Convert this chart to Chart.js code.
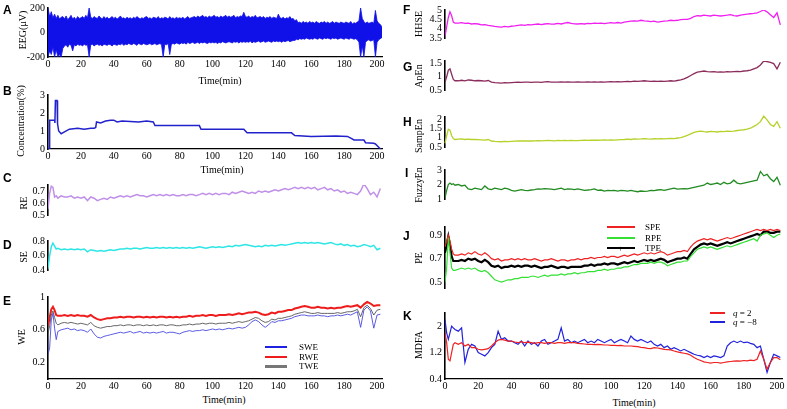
<!DOCTYPE html>
<html>
<head>
<meta charset="utf-8">
<script src="https://cdn.jsdelivr.net/npm/chart.js@4.4.1/dist/chart.umd.min.js"></script>
<style>
body{margin:0;background:#fff;width:787px;height:409px;position:relative;overflow:hidden;font-family:'Liberation Serif',serif;color:#000}
.box{position:absolute}
.lt{position:absolute;font:bold 12px 'Liberation Sans',Arial,sans-serif}
.yl{position:absolute;font-size:10px;white-space:nowrap;transform:translate(-50%,-50%) rotate(-90deg)}
.xl{position:absolute;font-size:10px;white-space:nowrap;transform:translate(-50%,-50%)}
.lg{position:absolute;font-size:9px;white-space:nowrap;line-height:10px}
.ln{position:absolute;z-index:5}
</style>
</head>
<body>
<script>
// time axis (min)
const t = [0,1,2,3,4,5,6,
  8,10,12,14,16,18,20,22,24,26,
  28,30,32,34,36,38,40,42,44,46,
  48,50,52,54,56,58,60,62,64,66,
  68,70,72,74,76,78,80,82,84,86,
  88,90,92,94,96,98,100,102,104,106,
  108,110,112,114,116,118,120,122,124,126,
  128,130,132,134,136,138,140,142,144,146,
  148,150,152,154,156,158,160,162,164,166,
  168,170,172,174,176,178,180,182,184,186,
  188,190,192,194,196,198,200,202];
const xTicks = [0,20,40,60,80,100,120,140,160,180,200];

// A: EEG envelope, 1 min resolution
const tEeg = [0,1,2,3,4,5,6,7,8,9,10,11,12,13,14,15,16,17,18,19,
  20,21,22,23,24,25,26,27,28,29,30,31,32,33,34,35,36,37,38,39,
  40,41,42,43,44,45,46,47,48,49,50,51,52,53,54,55,56,57,58,59,
  60,61,62,63,64,65,66,67,68,69,70,71,72,73,74,75,76,77,78,79,
  80,81,82,83,84,85,86,87,88,89,90,91,92,93,94,95,96,97,98,99,
  100,101,102,103,104,105,106,107,108,109,110,111,112,113,114,115,116,117,118,119,
  120,121,122,123,124,125,126,127,128,129,130,131,132,133,134,135,136,137,138,139,
  140,141,142,143,144,145,146,147,148,149,150,151,152,153,154,155,156,157,158,159,
  160,161,162,163,164,165,166,167,168,169,170,171,172,173,174,175,176,177,178,179,
  180,181,182,183,184,185,186,187,188,189,190,191,192,193,194,195,196,197,198,199,
  200,201,202,203];
const eegUpper = [200,130,170,120,150,115,140,110,125,130,
  110,135,105,120,140,110,125,105,130,115,
  120,130,115,140,120,200,125,115,130,120,
  115,135,120,110,130,115,125,110,120,130,
  115,125,110,120,135,115,120,110,125,115,
  120,110,125,115,130,120,110,120,115,125,
  130,115,120,110,125,120,115,130,110,120,
  115,125,120,110,130,115,120,110,125,115,
  120,115,125,110,120,130,115,120,125,130,
  120,135,125,130,140,125,130,120,135,125,
  130,140,125,130,120,135,125,130,140,125,
  135,125,130,140,120,130,125,135,130,165,
  130,125,135,120,130,125,140,120,125,130,
  120,130,115,125,120,130,115,125,120,115,
  150,120,115,125,110,120,115,130,110,115,
  95,105,80,85,75,90,80,85,75,90,
  80,85,75,90,80,75,85,80,90,75,
  85,75,80,90,75,85,80,75,85,80,
  75,85,80,75,90,70,80,75,85,95,
  200,115,90,75,85,75,80,85,75,180,
  95,75,65,45];
const eegLower = [-200,-150,-180,-120,-200,-140,-200,-180,-200,-130,
  -110,-100,-120,-95,-105,-150,-100,-110,-95,-105,
  -100,-110,-95,-105,-100,-200,-100,-95,-110,-100,
  -95,-105,-100,-110,-95,-100,-105,-95,-100,-110,
  -95,-100,-105,-95,-100,-90,-105,-95,-100,-90,
  -95,-100,-90,-95,-105,-90,-95,-100,-90,-95,
  -100,-95,-90,-100,-95,-90,-100,-95,-90,-100,
  -200,-95,-100,-90,-180,-95,-90,-95,-85,-90,
  -95,-85,-90,-85,-95,-80,-90,-85,-80,-90,
  -85,-80,-90,-80,-85,-80,-85,-90,-80,-85,
  -80,-85,-80,-90,-80,-85,-75,-80,-85,-80,
  -75,-80,-85,-75,-80,-75,-85,-75,-80,-75,
  -80,-75,-80,-70,-85,-75,-80,-75,-70,-80,
  -75,-70,-80,-75,-70,-75,-80,-70,-75,-70,
  -75,-70,-80,-70,-75,-70,-65,-75,-70,-65,
  -65,-55,-60,-50,-55,-50,-55,-45,-50,-55,
  -50,-55,-45,-50,-55,-45,-50,-55,-45,-50,
  -45,-50,-55,-45,-50,-45,-55,-50,-45,-50,
  -55,-45,-50,-55,-45,-50,-55,-50,-60,-80,
  -200,-110,-200,-80,-65,-60,-70,-65,-60,-200,
  -80,-60,-50,-40];

// B: concentration (step-like)
const tConc = [0,0.8,1,4,4.2,4.5,5.5,5.8,6.5,8,10,13,18,22,26,28,29,29.5,32,35,38,40,42,45,55,60,64,65,92,93,119,121,148,150,160,175,182,184,186,192,193,198,199,201,202];
const conc = [0,0.05,1.6,1.6,1.45,2.7,2.7,1.4,1.0,0.85,0.95,1.1,1.15,1.1,1.15,1.15,1.2,1.5,1.45,1.55,1.6,1.6,1.5,1.55,1.5,1.55,1.5,1.3,1.3,1.1,1.1,0.9,0.9,0.75,0.7,0.72,0.7,0.6,0.5,0.5,0.35,0.32,0.28,0.1,0];

// C: RE
const re = [0.55,0.68,0.74,0.73,0.65,0.66,0.64,
  0.66,0.65,0.65,0.66,0.64,0.65,0.64,0.65,0.62,0.65,
  0.64,0.62,0.63,0.64,0.63,0.65,0.64,0.65,0.66,0.65,
  0.66,0.65,0.66,0.67,0.66,0.66,0.65,0.66,0.67,0.66,
  0.67,0.66,0.67,0.66,0.67,0.66,0.66,0.67,0.66,0.67,
  0.67,0.66,0.67,0.68,0.67,0.68,0.67,0.68,0.67,0.68,
  0.68,0.67,0.69,0.68,0.69,0.70,0.69,0.68,0.69,0.68,
  0.70,0.69,0.70,0.69,0.70,0.71,0.70,0.71,0.72,0.71,
  0.72,0.73,0.72,0.73,0.72,0.73,0.72,0.73,0.71,0.72,
  0.73,0.71,0.72,0.70,0.71,0.69,0.70,0.68,0.69,0.68,
  0.67,0.70,0.76,0.72,0.67,0.69,0.65,0.72];

// D: SE
const se = [0.42,0.60,0.72,0.77,0.73,0.69,0.70,
  0.68,0.69,0.68,0.69,0.68,0.69,0.68,0.69,0.65,0.68,
  0.67,0.66,0.67,0.66,0.67,0.68,0.67,0.68,0.69,0.69,
  0.70,0.69,0.70,0.70,0.69,0.70,0.71,0.70,0.70,0.71,
  0.70,0.71,0.70,0.71,0.70,0.71,0.70,0.71,0.70,0.71,
  0.70,0.71,0.72,0.71,0.70,0.71,0.72,0.71,0.72,0.71,
  0.72,0.73,0.72,0.74,0.73,0.74,0.75,0.74,0.73,0.72,
  0.73,0.72,0.74,0.73,0.74,0.73,0.74,0.75,0.74,0.75,
  0.76,0.77,0.78,0.77,0.78,0.77,0.78,0.77,0.78,0.77,
  0.76,0.77,0.78,0.76,0.75,0.76,0.74,0.75,0.73,0.74,
  0.72,0.73,0.75,0.74,0.72,0.74,0.68,0.70];

// E: WE
const rwe = [0.65,0.75,0.85,0.88,0.84,0.78,0.77,
  0.77,0.78,0.77,0.78,0.77,0.78,0.77,0.77,0.76,0.78,
  0.75,0.73,0.72,0.73,0.74,0.74,0.75,0.75,0.76,0.75,
  0.76,0.76,0.75,0.76,0.76,0.75,0.76,0.75,0.76,0.75,
  0.76,0.76,0.75,0.76,0.75,0.76,0.75,0.76,0.76,0.77,
  0.76,0.77,0.77,0.78,0.77,0.78,0.78,0.77,0.78,0.78,
  0.78,0.79,0.78,0.79,0.80,0.79,0.80,0.81,0.81,0.82,
  0.81,0.79,0.78,0.79,0.81,0.80,0.82,0.82,0.83,0.84,
  0.84,0.86,0.87,0.88,0.89,0.88,0.87,0.87,0.88,0.87,
  0.87,0.86,0.87,0.86,0.87,0.87,0.88,0.89,0.88,0.89,
  0.90,0.87,0.91,0.94,0.92,0.89,0.90,0.90];
const twe = [0.55,0.65,0.78,0.83,0.75,0.68,0.66,
  0.68,0.69,0.68,0.69,0.68,0.67,0.68,0.67,0.66,0.69,
  0.65,0.63,0.62,0.63,0.64,0.64,0.65,0.65,0.66,0.65,
  0.66,0.66,0.65,0.66,0.66,0.65,0.66,0.65,0.66,0.65,
  0.66,0.66,0.65,0.66,0.66,0.65,0.65,0.66,0.66,0.67,
  0.66,0.67,0.67,0.68,0.67,0.68,0.68,0.67,0.68,0.68,
  0.68,0.69,0.68,0.69,0.70,0.69,0.70,0.71,0.73,0.75,
  0.74,0.71,0.69,0.70,0.73,0.72,0.74,0.74,0.75,0.76,
  0.77,0.79,0.80,0.81,0.82,0.81,0.80,0.80,0.81,0.80,
  0.80,0.80,0.80,0.80,0.81,0.80,0.81,0.82,0.82,0.83,
  0.85,0.76,0.87,0.90,0.86,0.78,0.84,0.85];
const swe = [0.30,0.38,0.72,0.80,0.62,0.48,0.58,
  0.60,0.61,0.62,0.60,0.61,0.59,0.60,0.59,0.57,0.61,
  0.55,0.51,0.50,0.52,0.53,0.54,0.55,0.56,0.57,0.56,
  0.57,0.58,0.56,0.57,0.58,0.56,0.57,0.56,0.57,0.56,
  0.57,0.58,0.56,0.57,0.57,0.56,0.55,0.57,0.58,0.59,
  0.58,0.59,0.59,0.60,0.59,0.60,0.61,0.60,0.61,0.60,
  0.61,0.62,0.61,0.62,0.63,0.62,0.63,0.66,0.70,0.72,
  0.70,0.66,0.63,0.66,0.70,0.69,0.71,0.71,0.72,0.73,
  0.74,0.76,0.77,0.78,0.78,0.77,0.77,0.77,0.78,0.77,
  0.77,0.76,0.77,0.77,0.78,0.77,0.78,0.79,0.78,0.80,
  0.82,0.63,0.84,0.88,0.83,0.62,0.78,0.79];

// F: HHSE
const hhse = [3.6,4.1,4.6,4.9,4.7,4.35,4.3,
  4.3,4.32,4.28,4.3,4.25,4.27,4.25,4.2,4.22,4.18,
  4.15,4.12,4.1,4.08,4.12,4.1,4.13,4.15,4.18,4.2,
  4.18,4.22,4.2,4.23,4.25,4.22,4.25,4.27,4.24,4.25,
  4.28,4.25,4.3,4.33,4.28,4.26,4.25,4.27,4.25,4.28,
  4.27,4.3,4.28,4.3,4.27,4.3,4.32,4.3,4.33,4.3,
  4.35,4.38,4.4,4.42,4.4,4.45,4.42,4.4,4.38,4.4,
  4.35,4.38,4.4,4.42,4.45,4.43,4.45,4.48,4.5,4.5,
  4.55,4.65,4.7,4.68,4.72,4.7,4.68,4.72,4.7,4.68,
  4.7,4.72,4.75,4.7,4.68,4.72,4.75,4.78,4.8,4.82,
  4.85,4.92,5.0,4.9,4.75,4.6,4.85,4.2];

// G: ApEn
const apen = [0.8,1.0,1.25,1.3,1.1,0.9,0.85,
  0.85,0.87,0.85,0.88,0.87,0.85,0.86,0.85,0.84,0.86,
  0.8,0.78,0.77,0.76,0.78,0.77,0.78,0.79,0.8,0.79,
  0.8,0.8,0.79,0.8,0.8,0.79,0.81,0.82,0.8,0.8,
  0.8,0.81,0.8,0.81,0.8,0.8,0.81,0.8,0.8,0.81,
  0.8,0.81,0.8,0.81,0.8,0.81,0.82,0.81,0.82,0.81,
  0.82,0.83,0.82,0.84,0.83,0.84,0.85,0.84,0.83,0.84,
  0.83,0.84,0.83,0.84,0.85,0.84,0.86,0.88,0.92,0.98,
  1.05,1.12,1.18,1.2,1.22,1.2,1.19,1.2,1.18,1.19,
  1.18,1.2,1.19,1.2,1.21,1.2,1.22,1.23,1.25,1.3,
  1.35,1.45,1.6,1.58,1.55,1.5,1.3,1.55];

// H: SampEn
const sampen = [0.7,1.1,1.45,1.4,1.1,0.95,0.9,
  0.92,0.93,0.9,0.92,0.9,0.9,0.89,0.88,0.87,0.9,
  0.82,0.8,0.79,0.78,0.8,0.79,0.8,0.81,0.82,0.82,
  0.83,0.82,0.82,0.83,0.84,0.83,0.84,0.85,0.84,0.83,
  0.85,0.84,0.85,0.84,0.85,0.84,0.84,0.85,0.86,0.85,
  0.86,0.87,0.86,0.87,0.88,0.87,0.88,0.87,0.88,0.89,
  0.9,0.92,0.9,0.93,0.92,0.93,0.95,0.93,0.92,0.94,
  0.93,0.94,0.93,0.95,0.96,0.95,0.98,1.0,1.05,1.12,
  1.2,1.28,1.32,1.35,1.32,1.3,1.33,1.32,1.3,1.33,
  1.32,1.35,1.33,1.35,1.38,1.4,1.42,1.45,1.5,1.6,
  1.7,1.85,2.15,1.95,1.7,1.6,1.85,1.5];

// I: FuzzyEn
const fuzzy = [1.1,1.6,2.0,2.1,2.0,2.05,1.95,
  2.0,1.9,1.95,1.7,1.65,1.75,1.7,1.65,1.9,1.7,
  1.65,1.75,1.7,1.65,1.75,1.7,1.6,1.55,1.6,1.65,
  1.6,1.58,1.62,1.65,1.7,1.68,1.72,1.7,1.68,1.65,
  1.7,1.75,1.65,1.7,1.68,1.65,1.7,1.65,1.6,1.62,
  1.65,1.7,1.6,1.62,1.55,1.6,1.58,1.6,1.55,1.6,
  1.58,1.55,1.6,1.55,1.5,1.55,1.52,1.55,1.6,1.58,
  1.62,1.65,1.6,1.65,1.7,1.75,1.68,1.7,1.72,1.7,
  1.75,1.8,1.85,1.9,1.95,2.1,2.0,2.05,2.1,2.0,
  2.15,2.05,2.1,2.3,2.1,2.05,2.1,2.15,2.2,2.25,
  2.3,2.9,2.6,2.7,2.4,2.2,2.5,1.95];

// J: PE
const spe = [0.8,0.85,0.9,0.85,0.78,0.74,0.73,
  0.73,0.74,0.73,0.75,0.74,0.76,0.74,0.73,0.75,0.73,
  0.7,0.69,0.7,0.68,0.69,0.69,0.7,0.69,0.7,0.69,
  0.7,0.69,0.69,0.7,0.69,0.68,0.69,0.69,0.7,0.69,
  0.68,0.69,0.69,0.68,0.69,0.69,0.7,0.69,0.7,0.7,
  0.71,0.7,0.71,0.71,0.72,0.71,0.72,0.72,0.71,0.72,
  0.73,0.72,0.73,0.74,0.73,0.74,0.75,0.74,0.75,0.74,
  0.75,0.76,0.75,0.73,0.74,0.75,0.76,0.76,0.77,0.76,
  0.8,0.83,0.85,0.86,0.87,0.86,0.87,0.86,0.85,0.86,
  0.87,0.88,0.87,0.88,0.89,0.9,0.91,0.92,0.93,0.94,
  0.95,0.94,0.95,0.94,0.95,0.94,0.95,0.94];
const tpe = [0.75,0.82,0.89,0.82,0.72,0.68,0.68,
  0.68,0.69,0.68,0.7,0.69,0.7,0.68,0.67,0.69,0.67,
  0.64,0.63,0.64,0.62,0.63,0.63,0.64,0.63,0.64,0.63,
  0.64,0.64,0.63,0.64,0.63,0.62,0.63,0.63,0.64,0.63,
  0.62,0.63,0.63,0.62,0.63,0.63,0.63,0.63,0.64,0.64,
  0.65,0.64,0.65,0.65,0.66,0.65,0.66,0.66,0.65,0.66,
  0.67,0.66,0.67,0.68,0.67,0.68,0.69,0.68,0.69,0.68,
  0.69,0.7,0.69,0.67,0.68,0.69,0.7,0.7,0.71,0.7,
  0.74,0.78,0.8,0.82,0.83,0.82,0.83,0.82,0.81,0.82,
  0.83,0.84,0.83,0.84,0.85,0.86,0.87,0.88,0.89,0.9,
  0.91,0.9,0.93,0.93,0.92,0.92,0.93,0.93];
const rpe = [0.5,0.62,0.88,0.75,0.62,0.6,0.6,
  0.61,0.62,0.61,0.62,0.61,0.62,0.6,0.59,0.6,0.58,
  0.55,0.52,0.51,0.5,0.51,0.52,0.52,0.53,0.53,0.54,
  0.54,0.54,0.55,0.55,0.54,0.55,0.56,0.55,0.56,0.56,
  0.56,0.57,0.56,0.57,0.57,0.58,0.57,0.58,0.58,0.59,
  0.59,0.59,0.6,0.6,0.61,0.6,0.61,0.61,0.62,0.62,
  0.63,0.63,0.64,0.65,0.65,0.66,0.66,0.66,0.67,0.66,
  0.67,0.67,0.66,0.64,0.65,0.66,0.67,0.67,0.68,0.68,
  0.72,0.75,0.78,0.79,0.8,0.79,0.8,0.79,0.78,0.79,
  0.8,0.81,0.8,0.81,0.82,0.83,0.84,0.85,0.86,0.87,
  0.85,0.9,0.91,0.92,0.9,0.88,0.9,0.91];

// K: MDFA
const mdfaQ2 = [1.8,1.5,1.0,0.95,1.2,1.45,1.5,
  1.45,1.5,1.4,1.45,1.35,1.35,1.3,1.28,1.3,1.32,
  1.4,1.5,1.58,1.6,1.58,1.55,1.55,1.52,1.5,1.53,
  1.5,1.52,1.5,1.48,1.5,1.5,1.48,1.5,1.5,1.48,
  1.5,1.5,1.48,1.5,1.5,1.5,1.48,1.47,1.46,1.45,
  1.45,1.44,1.45,1.44,1.43,1.43,1.42,1.42,1.41,1.42,
  1.4,1.4,1.4,1.39,1.38,1.36,1.35,1.33,1.32,1.35,
  1.34,1.32,1.3,1.29,1.28,1.25,1.22,1.2,1.18,1.16,
  1.12,1.05,1.0,0.96,0.92,0.9,0.88,0.9,0.9,0.88,
  0.9,0.92,0.93,0.94,0.95,0.94,0.96,0.95,0.97,0.96,
  1.0,1.25,1.0,0.7,0.9,1.05,1.05,0.98];
const mdfaQm8 = [2.2,1.8,1.6,1.8,2.0,1.95,1.9,
  1.85,1.95,0.9,1.3,1.45,1.4,1.2,1.15,1.1,1.2,
  1.35,1.45,1.85,1.6,1.65,1.55,1.55,1.5,1.45,1.55,
  1.4,1.55,1.45,1.5,1.4,1.55,1.6,1.45,1.5,1.55,
  1.6,1.95,1.55,1.6,1.5,1.55,1.5,1.55,1.6,1.5,
  1.55,1.5,1.6,1.55,1.5,1.55,1.6,1.5,1.55,1.6,
  1.55,1.5,1.7,1.6,1.55,1.6,1.55,1.5,1.55,1.45,
  1.4,1.45,1.35,1.4,1.3,1.35,1.3,1.25,1.3,1.25,
  1.2,1.15,1.12,1.1,1.05,1.1,1.05,1.1,1.08,1.05,
  1.1,1.4,1.5,1.55,1.5,1.55,1.5,1.52,1.48,1.45,
  1.35,1.4,1.0,0.6,0.9,1.15,1.1,1.05];

Chart.defaults.font.family = "'Liberation Serif', serif";
Chart.defaults.font.size = 10;
Chart.defaults.color = '#000';

function pts(xs, ys) { return xs.map((x, i) => ({x: x, y: ys[i]})); }
function line(xs, ys, color, w, extra) {
  return Object.assign({data: pts(xs, ys), borderColor: color, borderWidth: w, pointRadius: 0, fill: false}, extra || {});
}

function panel(x0, x1, y0, y1, yMin, yMax, yTicks, showX, datasets) {
  const L = 44, R = 5, T = 7, B = showX ? 13 : 6;
  const w = x1 - x0 + L + R, h = y1 - y0 + T + B;
  const div = document.createElement('div');
  div.className = 'box';
  div.style.left = (x0 - L) + 'px';
  div.style.top = (y0 - T) + 'px';
  const c = document.createElement('canvas');
  c.width = w; c.height = h;
  c.style.width = w + 'px'; c.style.height = h + 'px';
  div.appendChild(c);
  document.body.appendChild(div);
  new Chart(c, {
    type: 'line',
    data: {datasets: datasets},
    options: {
      responsive: false,
      animation: false,
      layout: {padding: {left: 0, right: R, top: T, bottom: showX ? 0 : B}},
      plugins: {legend: {display: false}, tooltip: {enabled: false}},
      elements: {line: {tension: 0}},
      scales: {
        x: {
          type: 'linear', min: 0, max: 203, display: showX,
          afterBuildTicks: s => { s.ticks = xTicks.map(v => ({value: v})); },
          afterFit: s => { s.height = B; },
          grid: {display: false, drawTicks: false},
          border: {display: true, color: '#000', width: 1.2},
          ticks: {padding: 1, maxRotation: 0, autoSkip: false}
        },
        y: {
          type: 'linear', min: yMin, max: yMax,
          afterBuildTicks: s => { s.ticks = yTicks.map(v => ({value: v})); },
          afterFit: s => { s.width = L; },
          grid: {display: false, drawTicks: false},
          border: {display: true, color: '#000', width: 1.6},
          ticks: {padding: 3, autoSkip: false, callback: v => String(v)}
        }
      }
    }
  });
}

// left column
panel(48, 382, 6, 57, -200, 200, [-200, 0, 200], true, [
  line(tEeg, eegUpper, '#1010e8', 0.8, {fill: '+1', backgroundColor: '#1010e8'}),
  line(tEeg, eegLower, '#1010e8', 0.8)
]);
panel(48, 382, 93, 149, 0, 3, [0, 1, 2, 3], true, [
  line(tConc, conc, '#2222cc', 1.5)
]);
panel(48, 382, 183, 221, 0.5, 0.75, [0.5, 0.6, 0.7], false, [
  line(t, re, '#c090e8', 1.5)
]);
panel(48, 382, 239, 276, 0.4, 0.8, [0.4, 0.6, 0.8], false, [
  line(t, se, '#2ee6e6', 1.5)
]);
panel(48, 382, 295, 379, 0, 1, [0.2, 0.6, 1], true, [
  line(t, swe, '#4a4ae0', 0.9),
  line(t, twe, '#555555', 0.9),
  line(t, rwe, '#ee1c1c', 2)
]);

// right column
panel(445, 782, 8, 44, 3.5, 5, [3.5, 4, 4.5, 5], false, [
  line(t, hhse, '#f020f0', 1.3)
]);
panel(445, 782, 59, 96, 0.5, 1.6, [0.5, 1, 1.5], false, [
  line(t, apen, '#8c2c5c', 1.3)
]);
panel(445, 782, 115, 153, 0.5, 2.1, [0.5, 1, 1.5, 2], false, [
  line(t, sampen, '#b4d22a', 1.3, {clip: false})
]);
panel(445, 782, 168, 205, 1, 3, [1, 2, 3], false, [
  line(t, fuzzy, '#228b22', 1.3)
]);
panel(445, 782, 225, 294, 0.45, 0.97, [0.5, 0.7, 0.9], false, [
  line(t, rpe, '#33e033', 1.2),
  line(t, spe, '#ee2222', 1.2),
  line(t, tpe, '#000000', 2.2)
]);
panel(445, 782, 311, 379, 0.4, 2.4, [0.4, 1.2, 2], true, [
  line(t, mdfaQ2, '#ee2222', 1.2),
  line(t, mdfaQm8, '#2222dd', 1.2)
]);

// text: panel letters, axis titles, legends
function txt(cls, html, x, y) {
  const d = document.createElement('div');
  d.className = cls; d.innerHTML = html;
  d.style.left = x + 'px'; d.style.top = y + 'px';
  document.body.appendChild(d);
}
const letters = [['A',3,3],['B',3,84],['C',3,171],['D',3,238],['E',3,294],
  ['F',403,3],['G',403,60],['H',403,115],['I',405,166],['J',403,229],['K',403,309]];
letters.forEach(l => txt('lt', l[0], l[1], l[2]));

const yTitles = [['EEG(μV)',22,30],['Concentration(%)',20,121],['RE',23,203],['SE',23,257],['WE',21,337],
  ['HHSE',418,24],['ApEn',418,76],['SampEn',418,136],['FuzzyEn',418,185],['PE',418,258],['MDFA',418,345]];
yTitles.forEach(l => txt('yl', l[0], l[1], l[2]));

[[220,80],[222,169],[224,399],[634,402]].forEach(p => txt('xl', 'Time(min)', p[0], p[1]));

function legendRow(x, y, len, color, w, label, lx) {
  const d = document.createElement('div');
  d.className = 'ln';
  d.style.left = x + 'px'; d.style.top = Math.round(y - w / 2) + 'px';
  d.style.width = len + 'px'; d.style.height = w + 'px';
  d.style.backgroundColor = color;
  document.body.appendChild(d);
  txt('lg', label, lx, y - 5);
}
legendRow(265, 347, 22, '#2020e0', 2, 'SWE', 299);
legendRow(265, 357, 22, '#ee1c1c', 2, 'RWE', 299);
legendRow(265, 366, 22, '#777777', 3, 'TWE', 299);

legendRow(607, 227, 28, '#ee2222', 2, 'SPE', 645);
legendRow(607, 238, 28, '#33e033', 2, 'RPE', 645);
legendRow(607, 248, 28, '#000000', 2, 'TPE', 645);
txt('lg', '+', 618, 243);

legendRow(710, 313, 15, '#ee2222', 2, '<i>q</i> = 2', 733);
legendRow(710, 322, 15, '#2222dd', 2, '<i>q</i> = −8', 733);
</script>
</body>
</html>
